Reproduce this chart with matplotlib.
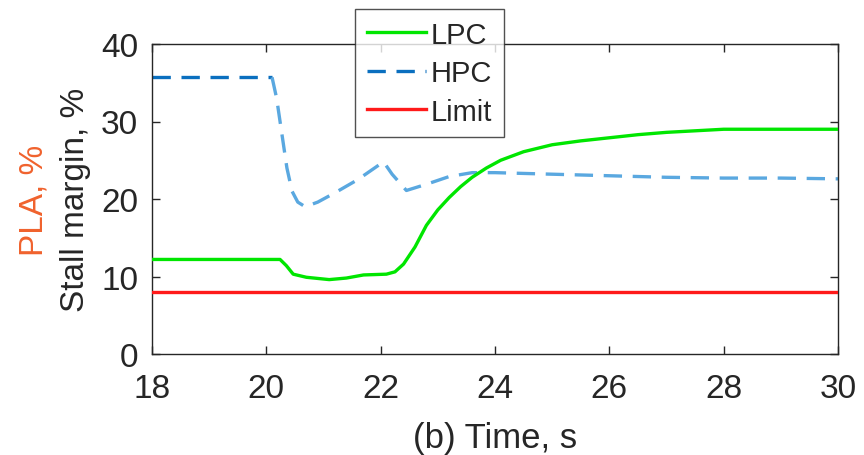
import matplotlib
matplotlib.use('Agg')
import matplotlib.pyplot as plt
from matplotlib.lines import Line2D

plt.rcParams['font.family'] = ['Liberation Sans', 'DejaVu Sans']

# ── Data (time in s, stall margin in %) ─────────────────────────────────────
t_lpc = [18.0, 20.0, 20.24, 20.35, 20.47, 20.7, 21.1, 21.4, 21.7, 22.1, 22.25,
         22.4, 22.6, 22.8, 23.0, 23.2, 23.4, 23.6, 23.85, 24.1, 24.5, 25.0,
         25.5, 26.0, 26.5, 27.0, 27.5, 28.0, 29.0, 30.0]
lpc = [12.2, 12.2, 12.2, 11.4, 10.3, 9.9, 9.6, 9.8, 10.2, 10.3, 10.6,
       11.6, 13.8, 16.6, 18.6, 20.2, 21.6, 22.8, 24.0, 25.0, 26.1, 27.0,
       27.5, 27.9, 28.3, 28.6, 28.8, 29.0, 29.0, 29.0]

t_hpc_a = [18.0, 20.1]
hpc_a = [35.7, 35.7]
t_hpc_b = [20.1, 20.18, 20.28, 20.36, 20.45, 20.55, 20.68, 20.9, 21.2, 21.6,
           22.05, 22.2, 22.45, 22.8, 23.2, 23.6, 24.0, 25.0, 26.0, 27.0,
           28.0, 29.0, 30.0]
hpc_b = [35.7, 33.0, 28.0, 24.0, 21.0, 19.6, 19.0, 19.6, 20.8, 22.5,
         24.8, 23.2, 21.1, 21.9, 22.9, 23.4, 23.4, 23.2, 23.0, 22.8,
         22.7, 22.7, 22.6]

t_limit = [18.0, 30.0]
limit = [8.0, 8.0]

x_ticks = [18, 20, 22, 24, 26, 28, 30]
y_ticks = [0, 10, 20, 30, 40]

GREEN = '#00e600'
BLUE = '#0a6fbf'
BLUE_LT = '#5aa8e0'
RED = '#ff1a1a'
ORANGE = '#f0622d'
INK = '#262626'
DASH = (0, (5.5, 3.2))

fig = plt.figure(figsize=(8.64, 4.56), dpi=100)
ax = fig.add_axes([152 / 864, 1 - 355 / 456, 686 / 864, 310 / 456])

ax.plot(t_lpc, lpc, color=GREEN, lw=2.4, zorder=3)
ax.plot(t_hpc_a, hpc_a, color=BLUE, lw=2.4, ls=DASH, zorder=2)
ax.plot(t_hpc_b, hpc_b, color=BLUE_LT, lw=2.4, ls=DASH, zorder=2)
ax.plot(t_limit, limit, color=RED, lw=2.4, zorder=3)

ax.set_xlim(18, 30)
ax.set_ylim(0, 40)
ax.set_xticks(x_ticks)
ax.set_yticks(y_ticks)
ax.tick_params(direction='in', top=True, right=True, labelsize=24,
               length=6, width=1, colors=INK, labelcolor=INK)
ax.tick_params(axis='x', pad=14)
ax.tick_params(axis='y', pad=10)
for sp in ax.spines.values():
    sp.set_color(INK)
    sp.set_linewidth(1)

ax.set_xlabel('(b) Time, s', fontsize=25, color=INK, labelpad=12)

# two-colour y label
ax.text(-0.112, 0.5, 'Stall margin, %', transform=ax.transAxes, rotation=90,
        ha='center', va='center', fontsize=24, color=INK)
ax.text(-0.172, 0.5, 'PLA, %', transform=ax.transAxes, rotation=90,
        ha='center', va='center', fontsize=24, color=ORANGE)

handles = [Line2D([], [], color=GREEN, lw=2.4),
           Line2D([], [], color=BLUE, lw=2.4, ls=DASH),
           Line2D([], [], color=RED, lw=2.4)]
leg = fig.legend(handles, ['LPC', 'HPC', 'Limit'], loc='upper left',
                 bbox_to_anchor=(355 / 864, 1 - 10 / 456), fontsize=21,
                 frameon=True, fancybox=False, handlelength=2.05,
                 handletextpad=0.15, borderpad=0.4, labelspacing=0.36,
                 borderaxespad=0)
leg.get_frame().set_edgecolor(INK)
leg.get_frame().set_linewidth(1)
for txt in leg.get_texts():
    txt.set_color(INK)

fig.savefig('out.png', dpi=100, facecolor='white')
